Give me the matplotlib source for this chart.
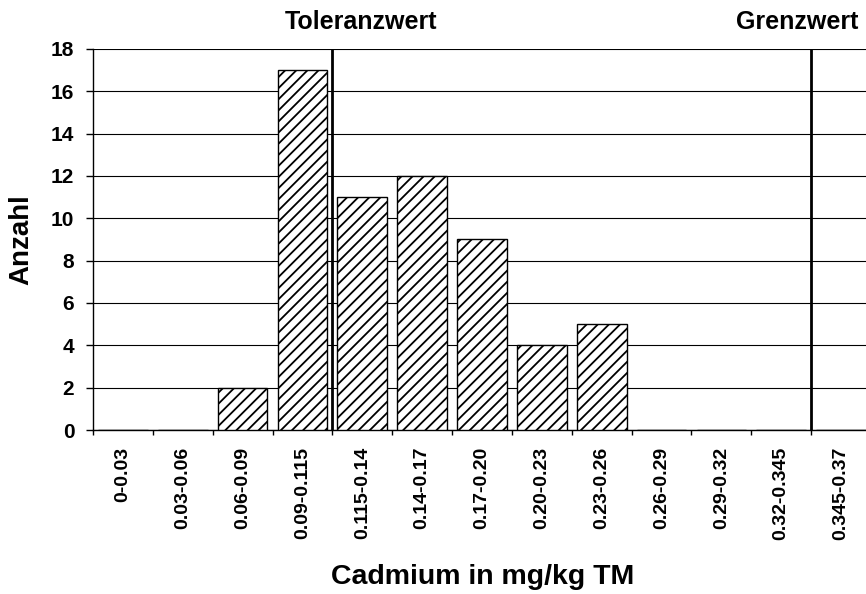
import matplotlib
matplotlib.use("Agg")
import matplotlib.pyplot as plt
import matplotlib.transforms as mtransforms
import numpy as np

categories = ["0-0.03", "0.03-0.06", "0.06-0.09", "0.09-0.115", "0.115-0.14",
              "0.14-0.17", "0.17-0.20", "0.20-0.23", "0.23-0.26", "0.26-0.29",
              "0.29-0.32", "0.32-0.345", "0.345-0.37"]
counts = [0, 0, 2, 17, 11, 12, 9, 4, 5, 0, 0, 0, 0]
y_ticks = [0, 2, 4, 6, 8, 10, 12, 14, 16, 18]
toleranz_boundary = "0.115"
grenz_boundary = "0.345"

plt.rcParams['font.family'] = ['Liberation Sans', 'DejaVu Sans']
plt.rcParams['font.weight'] = 'bold'
plt.rcParams['hatch.linewidth'] = 1.3

fig = plt.figure(figsize=(8.66, 5.94), dpi=100)
ax = fig.add_axes([93/866, 164/594, 778/866, 381/594])

x = np.arange(len(categories))
ax.bar(x, counts, width=0.83, color='white', edgecolor='black', linewidth=1.0,
       hatch='///', zorder=3)

ax.set_xlim(-0.5, len(categories) - 0.5)
ax.set_ylim(0, 18)
ax.set_yticks(y_ticks)
ax.set_yticklabels([str(v) for v in y_ticks], fontsize=15, fontweight='bold')
ax.yaxis.grid(True, color='black', linewidth=0.8)
ax.set_axisbelow(True)

ax.set_xticks(x)
ax.set_xticklabels(categories, rotation=90, fontsize=14, fontweight='bold',
                   va='top', ha='center')
ax.tick_params(axis='x', which='major', length=0, pad=12)
ax.set_xticks(np.arange(-0.5, len(categories) + 0.5, 1.0), minor=True)
ax.tick_params(axis='x', which='minor', length=3.5, width=1.0, direction='out')
ax.tick_params(axis='y', length=5, width=1.0, pad=8.5)

for s in ['top', 'right']:
    ax.spines[s].set_visible(False)
for s in ['left', 'bottom']:
    ax.spines[s].set_linewidth(1.0)

# threshold lines at category boundaries
def boundary_pos(val):
    for i, c in enumerate(categories):
        if c.split('-')[0] == val:
            return i - 0.5
    return None

tx = boundary_pos(toleranz_boundary)
gx = boundary_pos(grenz_boundary)
ax.axvline(tx, color='black', linewidth=2.0, zorder=4)
ax.axvline(gx, color='black', linewidth=2.0, zorder=4)

trans = mtransforms.blended_transform_factory(ax.transData, ax.transAxes)
ax.text(tx + 0.47, 1.07, "Toleranzwert", transform=trans, ha='center', va='center',
        fontsize=18, fontweight='bold')
ax.text(gx - 0.23, 1.07, "Grenzwert", transform=trans, ha='center', va='center',
        fontsize=18, fontweight='bold')

ax.set_ylabel("Anzahl", fontsize=20, fontweight='bold', labelpad=12)
fig.text(483/866, 1 - 577/594, "Cadmium in mg/kg TM", ha='center', va='center',
         fontsize=20.5, fontweight='bold')

fig.savefig("out.png", dpi=100, facecolor='white')
